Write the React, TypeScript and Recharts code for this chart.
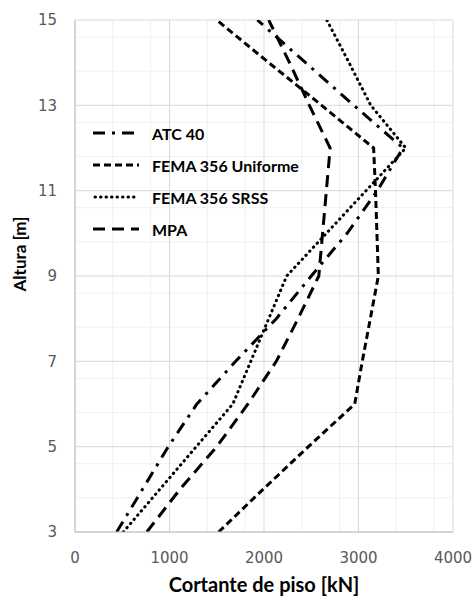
import React from 'react'
import {
  LineChart,
  Line,
  XAxis,
  YAxis,
  CartesianGrid,
  Legend,
} from 'recharts'

// alturas de piso [m]
const alturas = [3, 4, 5, 6, 7, 8, 9, 10, 11, 12, 13, 14, 15]

// cortante de piso [kN] por método
const atc40 = [441, 714, 987, 1290, 1700, 2130, 2500, 2880, 3200, 3470, 2950, 2440, 1930]
const femaUniforme = [1520, 1990, 2470, 2960, 3040, 3125, 3210, 3195, 3180, 3160, 2610, 2050, 1500]
const femaSrss = [511, 897, 1283, 1670, 1860, 2050, 2240, 2660, 3080, 3500, 3130, 2900, 2665]
const mpa = [760, 1110, 1500, 1830, 2130, 2360, 2580, 2620, 2660, 2700, 2480, 2270, 2050]

const ticksX = [0, 1000, 2000, 3000, 4000]
const ticksY = [3, 5, 7, 9, 11, 13, 15]
const minorX = [200, 400, 600, 800, 1200, 1400, 1600, 1800, 2200, 2400, 2600, 2800, 3200, 3400, 3600, 3800]
const minorY = [3.4, 3.8, 4.2, 4.6, 5.4, 5.8, 6.2, 6.6, 7.4, 7.8, 8.2, 8.6, 9.4, 9.8, 10.2, 10.6, 11.4, 11.8, 12.2, 12.6, 13.4, 13.8, 14.2, 14.6]

const serie = (valores: number[]) => valores.map((v, i) => ({ v, h: alturas[i] }))

const series = [
  { nombre: 'ATC 40', datos: serie(atc40), dash: '12 7 3 7', cap: 'butt' },
  { nombre: 'FEMA 356 Uniforme', datos: serie(femaUniforme), dash: '7 4', cap: 'butt' },
  { nombre: 'FEMA 356 SRSS', datos: serie(femaSrss), dash: '0.5 5', cap: 'round' },
  { nombre: 'MPA', datos: serie(mpa), dash: '12 7', cap: 'butt' },
]

const fuenteEje = { fill: '#595959', fontSize: 15, fontFamily: 'DejaVu Sans' }
const fuenteTitulo = "Lato, 'Open Sans', sans-serif"

const Leyenda = () => (
  <div style={{ fontFamily: fuenteTitulo, fontWeight: 700, fontSize: 16, color: '#000' }}>
    {series.map((s) => (
      <div key={s.nombre} style={{ display: 'flex', alignItems: 'center', height: 32 }}>
        <svg width={46} height={8} style={{ marginRight: 13 }}>
          <line
            x1={s.cap === 'round' ? 2 : 0}
            y1={4}
            x2={46}
            y2={4}
            stroke="#000"
            strokeWidth={3}
            strokeDasharray={s.dash}
            strokeLinecap={s.cap as 'butt' | 'round'}
          />
        </svg>
        <span>{s.nombre}</span>
      </div>
    ))}
  </div>
)

export default function App() {
  return (
    <div style={{ position: 'absolute', left: 0, top: 0, background: '#fff' }}>
      <LineChart width={475} height={598} margin={{ top: 20, right: 22, bottom: 0, left: 0 }}>
        <CartesianGrid
          stroke="#f0f0f0"
          verticalValues={minorX}
          horizontalValues={minorY}
        />
        <CartesianGrid
          stroke="#d9d9d9"
          verticalValues={ticksX}
          horizontalValues={ticksY}
        />
        <XAxis
          type="number"
          dataKey="v"
          domain={[0, 4000]}
          ticks={ticksX}
          allowDataOverflow
          height={66}
          tick={fuenteEje}
          tickLine={false}
          tickSize={0}
          tickMargin={20}
          axisLine={{ stroke: '#bfbfbf' }}
          label={{
            content: () => (
              <text
                x={264}
                y={592}
                textAnchor="middle"
                style={{ fontFamily: fuenteTitulo, fontWeight: 700, fontSize: 20, fill: '#000' }}
              >
                Cortante de piso [kN]
              </text>
            ),
          }}
        />
        <YAxis
          type="number"
          dataKey="h"
          domain={[3, 15]}
          ticks={ticksY}
          allowDataOverflow
          width={75}
          tick={fuenteEje}
          tickLine={false}
          tickSize={0}
          tickMargin={18}
          axisLine={{ stroke: '#bfbfbf' }}
          label={{
            content: () => (
              <text
                x={26}
                y={254}
                transform="rotate(-90 26 254)"
                textAnchor="middle"
                style={{ fontFamily: fuenteTitulo, fontWeight: 700, fontSize: 17, fill: '#000' }}
              >
                Altura [m]
              </text>
            ),
          }}
        />
        <Legend
          layout="vertical"
          align="center"
          verticalAlign="middle"
          content={<Leyenda />}
          wrapperStyle={{ left: 93, top: 117, width: 'auto' }}
        />
        {series.map((s) => (
          <Line
            key={s.nombre}
            name={s.nombre}
            data={s.datos}
            dataKey="h"
            type="linear"
            stroke="#000"
            strokeWidth={3}
            strokeDasharray={s.dash}
            strokeLinecap={s.cap as 'butt' | 'round'}
            dot={false}
            activeDot={false}
            isAnimationActive={false}
          />
        ))}
      </LineChart>
    </div>
  )
}
